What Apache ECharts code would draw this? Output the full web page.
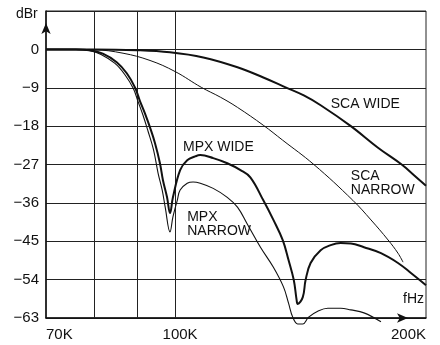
<!DOCTYPE html>
<html>
<head>
<meta charset="utf-8">
<script src="https://cdn.jsdelivr.net/npm/echarts@6/dist/echarts.min.js"></script>
<style>html,body{margin:0;padding:0;background:#fff}#c{width:440px;height:345px}</style>
</head>
<body>
<div id="c"></div>
<script>
// frequencies in kHz, levels in dBr
const xLabelFreqs = [70, 100, 200];
const xGridFreqs = [80, 90, 100];
const yMin = -63, yMax = 9, yStep = 9;

const scaWideFreq = [70, 80, 90, 98.6, 108.1, 118.8, 127.6, 135.7, 142.7, 149.5, 162.5, 175, 187, 190.4, 200];
const scaWideDb   = [0, 0, -0.2, -0.7, -1.9, -4.2, -6.6, -8.9, -10.8, -13.1, -18, -23, -27, -28.3, -32];

const scaNarrowFreq = [70, 80, 86.6, 93.3, 100, 107.5, 113.3, 118.8, 127.6, 134.6, 146.7, 163.4, 171.8, 180.1, 185.1, 187.7];
const scaNarrowDb   = [0, -0.1, -0.9, -2.6, -5.2, -8.9, -11.2, -13.6, -17.8, -21.3, -27, -35.4, -40, -44.7, -47.8, -49.9];

const mpxWideFreq = [70, 76, 79, 81.9, 85.1, 87.5, 89.5, 90.7, 92, 93.3, 94.6, 95.9, 96.7, 97.8, 98.6, 99.4, 101.4, 103.4, 105.7, 107.2, 111.1, 115.5, 119.8, 123.1, 127.6, 131.2, 134.6, 136.8, 138.8, 139.9, 140.3, 142.3, 143.4, 145.4, 149.5, 153.7, 158, 162.5, 168.5, 176.6, 185.1, 192, 200];
const mpxWideDb   = [0, 0, -0.2, -1.0, -3.0, -5.6, -8.9, -12, -15, -18.3, -22, -26.7, -30.7, -34.7, -38.4, -34.7, -28.3, -26.0, -25.1, -24.8, -25.5, -26.7, -28.3, -30, -35.4, -40, -44.7, -49.4, -54.1, -58.8, -59.7, -58.1, -54.1, -50.1, -47.1, -45.9, -45.4, -45.5, -46.4, -47.8, -50.1, -52.5, -55.3];

const mpxNarrowFreq = [70, 76, 79, 81.5, 84.7, 87.1, 89.1, 90.3, 91.5, 92.8, 94.2, 95.4, 96.5, 97.3, 98.6, 99.4, 100.6, 101.4, 103.4, 105.1, 107.2, 111.1, 115.5, 118.8, 122.1, 126.6, 131.2, 134.9, 136.8, 138.4, 140.3, 142.3, 144.6, 148.3, 152.5, 158, 162.5, 168.5, 176.6];
const mpxNarrowDb   = [0, 0, -0.3, -1.2, -3.3, -6, -9.2, -12.3, -15.4, -19.2, -23.5, -29, -33, -37, -42.8, -39.3, -35.4, -33, -31.4, -31.1, -31.4, -32.6, -34.7, -37, -41, -46.4, -51.1, -55.7, -59.5, -62.8, -64.4, -64.4, -62.8, -61.4, -60.7, -60.7, -61.1, -61.8, -63.9];

const curveNames = ['SCA WIDE', 'SCA NARROW', 'MPX WIDE', 'MPX NARROW'];
const labelText = ['SCA WIDE', 'SCA\nNARROW', 'MPX WIDE', 'MPX\nNARROW'];
const labelFreq = [153.7, 162.5, 102.2, 103.4];
const labelDb = [-12.9, -31.4, -23, -40.9];

const pairs = (f, d) => f.map((v, i) => [v, d[i]]);
const FONT = "'Liberation Sans Narrow','Arial Narrow','Liberation Sans',Arial,sans-serif";
const INK = '#111';

const chart = echarts.init(document.getElementById('c'), null, {renderer: 'canvas'});

function lineSeries(name, f, d, width) {
  return {
    name: name, type: 'line', data: pairs(f, d), showSymbol: false, symbol: 'none',
    smooth: 0.4, clip: false, silent: true,
    lineStyle: {color: INK, width: width}, z: 5
  };
}

const series = [
  lineSeries(curveNames[0], scaWideFreq, scaWideDb, 2),
  lineSeries(curveNames[1], scaNarrowFreq, scaNarrowDb, 1),
  lineSeries(curveNames[2], mpxWideFreq, mpxWideDb, 2),
  lineSeries(curveNames[3], mpxNarrowFreq, mpxNarrowDb, 1.1)
];
series[0].markLine = {
  silent: true, symbol: 'none', label: {show: false},
  lineStyle: {color: '#222', width: 1, type: 'solid'},
  data: xGridFreqs.map(v => ({xAxis: v}))
};
series[1].markPoint = {
  silent: true, symbol: 'circle', symbolSize: 0,
  label: {show: true, position: 'inside', align: 'left', verticalAlign: 'middle',
          color: INK, fontFamily: FONT, fontSize: 14, lineHeight: 14,
          formatter: p => p.name},
  data: labelText.map((t, i) => ({name: t, coord: [labelFreq[i], labelDb[i]]}))
};

chart.setOption({
  animation: false,
  backgroundColor: '#fff',
  grid: {left: 46, top: 11, right: 14, bottom: 27, show: true, borderColor: '#222', borderWidth: 1, backgroundColor: 'transparent'},
  xAxis: {
    type: 'log', logBase: 10, min: 70, max: 200,
    axisLine: {show: true, onZero: false, lineStyle: {color: INK, width: 1.5},
               symbol: ['none', 'arrow'], symbolSize: [7, 11], symbolOffset: [0, -18]},
    axisTick: {show: false},
    splitLine: {show: false},
    minorSplitLine: {show: false},
    axisLabel: {
      customValues: xLabelFreqs,
      color: INK, fontFamily: FONT, fontSize: 15, margin: 9,
      alignMinLabel: 'left', alignMaxLabel: 'right',
      showMinLabel: true, showMaxLabel: true,
      formatter: v => v === 100 ? '{m|' + Math.round(v) + 'K}' : Math.round(v) + 'K',
      rich: {m: {padding: [0, 0, 0, 10], fontFamily: FONT, fontSize: 15, color: INK}}
    }
  },
  yAxis: {
    type: 'value', min: yMin, max: yMax, interval: yStep,
    axisLine: {show: true, onZero: false, lineStyle: {color: INK, width: 1.5},
               symbol: ['none', 'arrow'], symbolSize: [7, 11], symbolOffset: [0, -12]},
    axisTick: {show: false},
    splitLine: {show: true, lineStyle: {color: '#222', width: 1}},
    axisLabel: {
      color: INK, fontFamily: FONT, fontSize: 15, margin: 7,
      formatter: v => v > 0 ? '' : (v < 0 ? '\u2212' + Math.abs(v) : '0')
    }
  },
  graphic: [
    {type: 'text', left: 16, top: 7, style: {text: 'dBr', font: '14px ' + FONT, fill: INK}},
    {type: 'text', left: 403, top: 292, style: {text: 'fHz', font: '14px ' + FONT, fill: INK}}
  ],
  series: series
});
</script>
</body>
</html>
